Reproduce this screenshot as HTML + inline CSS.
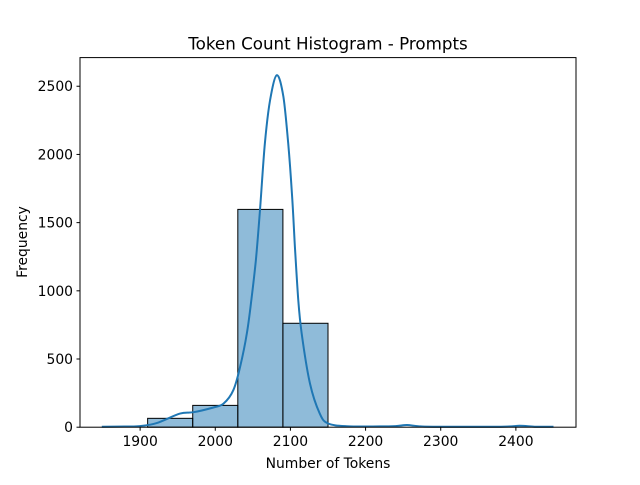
<!DOCTYPE html>
<html><head><meta charset="utf-8"><style>
body{margin:0;background:#fff;}
svg text{font-family:"DejaVu Sans","Liberation Sans",sans-serif;fill:#000;}
</style></head><body>
<svg id="chart" width="640" height="480" viewBox="0 0 640 480">
<rect width="640" height="480" fill="#fff"/>
<g id="bars"></g>
<path id="kde" fill="none" stroke="#1f77b4" stroke-width="2"/>
<g id="xticks"></g>
<g id="yticks"></g>
<rect x="80" y="57.6" width="496" height="369.6" fill="none" stroke="#000" stroke-width="1"/>
<text x="328" y="49.5" font-size="16.7" text-anchor="middle">Token Count Histogram - Prompts</text>
<text x="328" y="468" font-size="13.9" text-anchor="middle">Number of Tokens</text>
<text x="27" y="242" font-size="13.9" text-anchor="middle" transform="rotate(-90 27 242)">Frequency</text>
</svg>
<script>
const binEdges = [1910, 1970, 2030, 2090, 2150];
const binCounts = [65, 160, 1597, 762];
const kdeX = [1849,1880,1900,1922,1953,1971,1997,2011,2024,2033,2042,2048,2054,2059.5,2066,2073,2082,2090.6,2097,2102,2106,2110.5,2115,2126,2139,2150,2175,2219,2240,2255,2270,2290,2380,2405,2425,2450];
const kdeY = [4,5,8,30,100,110,144,173,271,442,686,930,1226,1593,2083,2399,2582,2423,2083,1716,1323,930,686,320,101,28,7,6,8,16,7,4,4,10,4,3];
const xTicks = [1900,2000,2100,2200,2300,2400];
const yTicks = [0,500,1000,1500,2000,2500];
const X0=80,X1=576,Y0=427.2,Y1=57.6,XMIN=1820,XMAX=2480,YMAX=2710;
const sx=v=>X0+(v-XMIN)/(XMAX-XMIN)*(X1-X0);
const sy=v=>Y0-v/YMAX*(Y0-Y1);
const NS="http://www.w3.org/2000/svg";
const bars=document.getElementById('bars');
binCounts.forEach((c,i)=>{
 const r=document.createElementNS(NS,'rect');
 r.setAttribute('x',sx(binEdges[i]));r.setAttribute('width',sx(binEdges[i+1])-sx(binEdges[i]));
 r.setAttribute('y',sy(c));r.setAttribute('height',Y0-sy(c));
 r.setAttribute('fill','rgba(31,119,180,0.5)');r.setAttribute('stroke','#000');r.setAttribute('stroke-width','1');
 
 
 bars.appendChild(r);
});
const pts=kdeX.map((x,i)=>[sx(x),sy(kdeY[i])]);
let d='M'+pts[0][0].toFixed(1)+' '+pts[0][1].toFixed(1);
for(let i=0;i<pts.length-1;i++){
 const p0=pts[Math.max(0,i-1)],p1=pts[i],p2=pts[i+1],p3=pts[Math.min(pts.length-1,i+2)];
 const c1=[p1[0]+(p2[0]-p0[0])/6,p1[1]+(p2[1]-p0[1])/6];
 const c2=[p2[0]-(p3[0]-p1[0])/6,p2[1]-(p3[1]-p1[1])/6];
 d+=' C'+c1[0].toFixed(1)+' '+c1[1].toFixed(1)+' '+c2[0].toFixed(1)+' '+c2[1].toFixed(1)+' '+p2[0].toFixed(1)+' '+p2[1].toFixed(1);
}
document.getElementById('kde').setAttribute('d',d);
const xg=document.getElementById('xticks');
xTicks.forEach(t=>{
 const l=document.createElementNS(NS,'line');
 l.setAttribute('x1',sx(t));l.setAttribute('x2',sx(t));l.setAttribute('y1',Y0);l.setAttribute('y2',Y0+3.5);l.setAttribute('stroke','#000');
 
 
 xg.appendChild(l);
 const tx=document.createElementNS(NS,'text');
 tx.setAttribute('x',sx(t));tx.setAttribute('y',Y0+19);tx.setAttribute('font-size','13.9');tx.setAttribute('text-anchor','middle');
 tx.textContent=t;
 
 
 xg.appendChild(tx);
});
const yg=document.getElementById('yticks');
yTicks.forEach(t=>{
 const l=document.createElementNS(NS,'line');
 l.setAttribute('x1',X0-3.5);l.setAttribute('x2',X0);l.setAttribute('y1',sy(t));l.setAttribute('y2',sy(t));l.setAttribute('stroke','#000');
 
 
 yg.appendChild(l);
 const tx=document.createElementNS(NS,'text');
 tx.setAttribute('x',X0-7);tx.setAttribute('y',sy(t)+5);tx.setAttribute('font-size','13.9');tx.setAttribute('text-anchor','end');
 tx.textContent=t;
 
 
 yg.appendChild(tx);
});
</script>
</body></html>
